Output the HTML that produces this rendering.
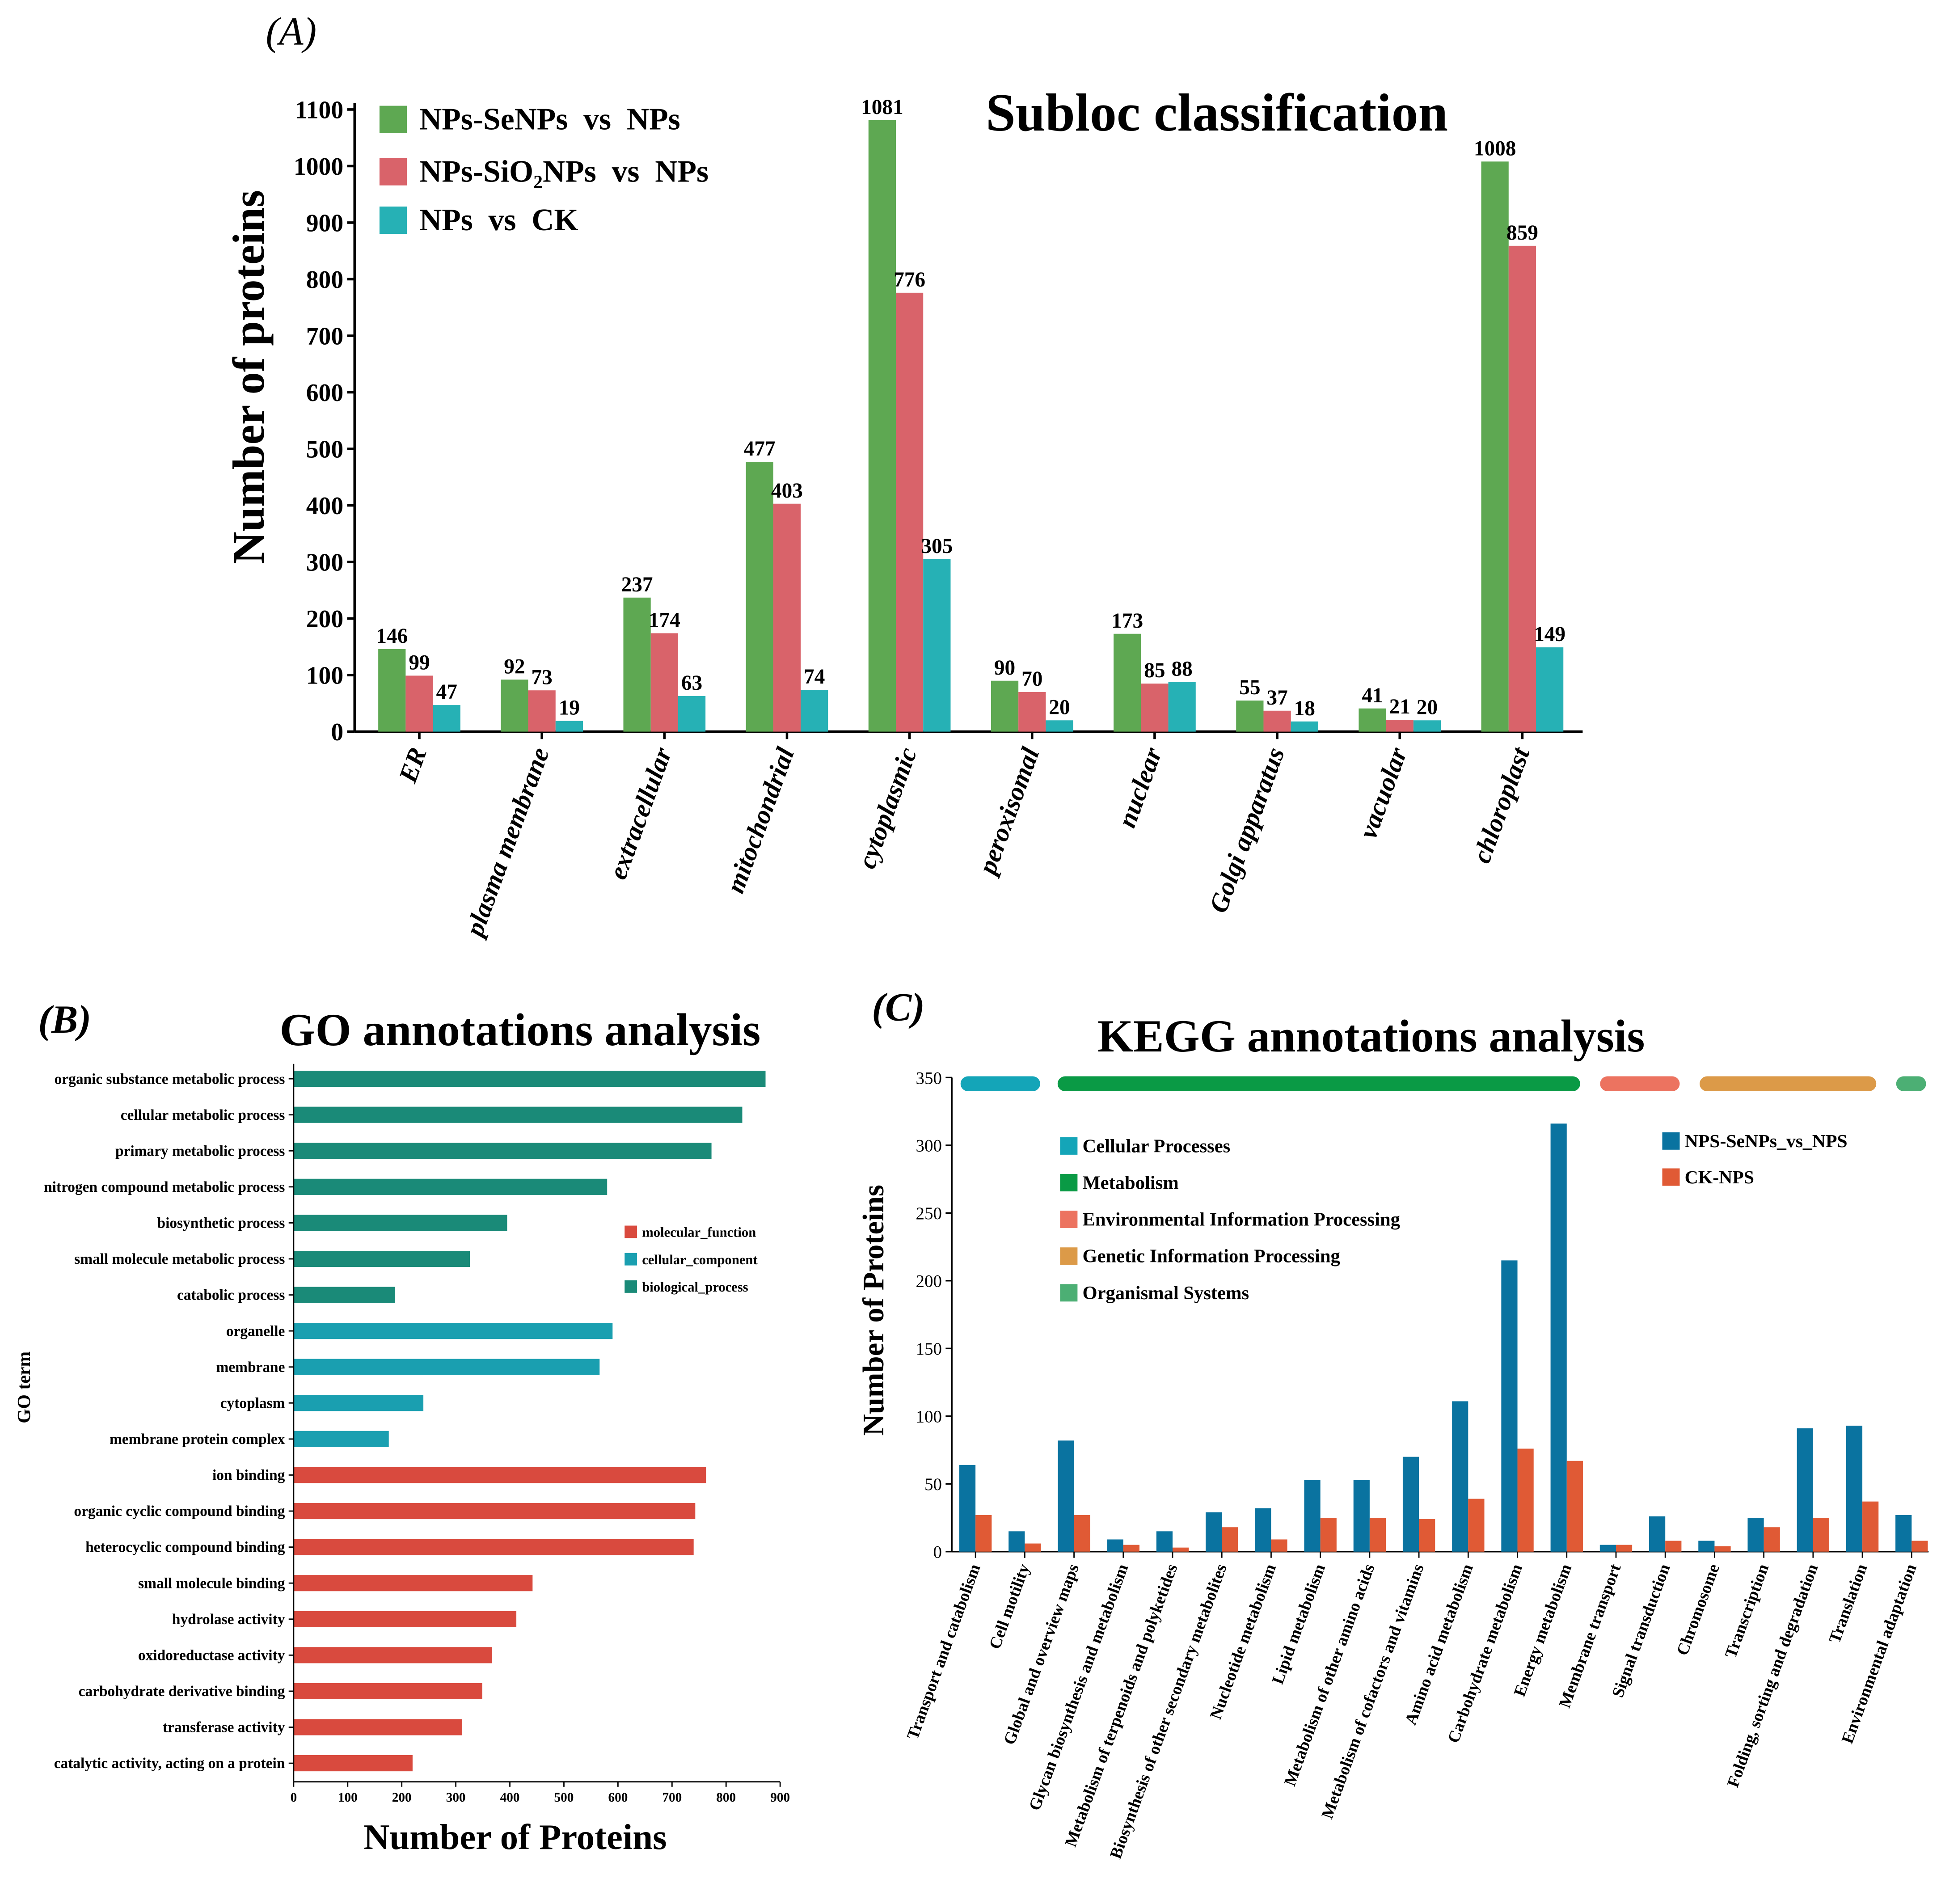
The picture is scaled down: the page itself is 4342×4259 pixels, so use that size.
<!DOCTYPE html>
<html><head><meta charset="utf-8">
<style>
html,body{margin:0;padding:0;background:#fff;}
svg{display:block;font-family:"Liberation Serif",serif;}
text{white-space:pre;}
</style></head>
<body>
<svg id="chart" xmlns="http://www.w3.org/2000/svg" width="4342" height="4259" viewBox="0 0 1560 1530.2">
<rect width="1560" height="1531" fill="#fff"/>
<g id="pa"></g>
<g id="pb"></g>
<g id="pc"></g>
</svg>
<script>
// ---------- Panel A data ----------
const aCategories = ["ER","plasma membrane","extracellular","mitochondrial","cytoplasmic","peroxisomal","nuclear","Golgi apparatus","vacuolar","chloroplast"];
const aSeriesNames = ["NPs-SeNPs  vs  NPs","NPs-SiO₂NPs  vs  NPs","NPs  vs  CK"];
const aSeSeries = [146,92,237,477,1081,90,173,55,41,1008];
const aSiSeries = [99,73,174,403,776,70,85,37,21,859];
const aCkSeries = [47,19,63,74,305,20,88,18,20,149];
const aTicks = [0,100,200,300,400,500,600,700,800,900,1000,1100];

// ---------- Panel B data ----------
const bTerms = ["organic substance metabolic process","cellular metabolic process","primary metabolic process","nitrogen compound metabolic process","biosynthetic process","small molecule metabolic process","catabolic process","organelle","membrane","cytoplasm","membrane protein complex","ion binding","organic cyclic compound binding","heterocyclic compound binding","small molecule binding","hydrolase activity","oxidoreductase activity","carbohydrate derivative binding","transferase activity","catalytic activity, acting on a protein"];
const bValues = [873,830,773,580,395,326,187,590,566,240,176,763,743,740,442,412,367,349,311,220];
const bGroups = ["bp","bp","bp","bp","bp","bp","bp","cc","cc","cc","cc","mf","mf","mf","mf","mf","mf","mf","mf","mf"];
const bTicks = [0,100,200,300,400,500,600,700,800,900];

// ---------- Panel C data ----------
const cCategories = ["Transport and catabolism","Cell motility","Global and overview maps","Glycan biosynthesis and metabolism","Metabolism of terpenoids and polyketides","Biosynthesis of other secondary metabolites","Nucleotide metabolism","Lipid metabolism","Metabolism of other amino acids","Metabolism of cofactors and vitamins","Amino acid metabolism","Carbohydrate metabolism","Energy metabolism","Membrane transport","Signal transduction","Chromosome","Transcription","Folding, sorting and degradation","Translation","Environmental adaptation"];
const cSeSeries = [64,15,82,9,15,29,32,53,53,70,111,215,316,5,26,8,25,91,93,27];
const cCkSeries = [27,6,27,5,3,18,9,25,25,24,39,76,67,5,8,4,18,25,37,8];
const cTicks = [0,50,100,150,200,250,300,350];

const NS="http://www.w3.org/2000/svg";
function mk(parent,tag,attrs,text){const e=document.createElementNS(NS,tag);for(const k in attrs)e.setAttribute(k,attrs[k]);if(text!==undefined)e.textContent=text;parent.appendChild(e);return e;}

// ===== Panel A =====
(function(){
const g=document.getElementById('pa');
const x0=285,x1=1272,y0=588,yTop=88,maxV=1100;
const y=v=>y0-(v/maxV)*(y0-yTop);
const gx=i=>304+i*98.5;
const bw=22;
const cols=["#5ea852","#d9636a","#26b1b5"];
const series=[aSeSeries,aSiSeries,aCkSeries];
let e;
e=mk(g,'line',{x1:x0,y1:y0,x2:x1,y2:y0,stroke:'#000','stroke-width':2});

e=mk(g,'line',{x1:x0,y1:y0,x2:x0,y2:yTop-5,stroke:'#000','stroke-width':2});

aTicks.forEach(t=>{
 mk(g,'line',{x1:x0-6,y1:y(t),x2:x0,y2:y(t),stroke:'#000','stroke-width':2});
 e=mk(g,'text',{x:x0-9,y:y(t)+7,'text-anchor':'end','font-size':20,'font-weight':'bold'},t);
 
});
series.forEach((s,si)=>{
 s.forEach((v,i)=>{
  const bx=gx(i)+si*bw;
  e=mk(g,'rect',{x:bx,y:y(v),width:bw,height:y0-y(v),fill:cols[si]});
  
  e=mk(g,'text',{x:bx+bw/2,y:y(v)-5,'text-anchor':'middle','font-size':17,'font-weight':'bold'},v);
  
 });
});
aCategories.forEach((c,i)=>{
 const cx=gx(i)+bw*1.5;
 mk(g,'line',{x1:cx,y1:y0,x2:cx,y2:y0+6,stroke:'#000','stroke-width':2});
 e=mk(g,'text',{x:cx+6,y:y0+16,'text-anchor':'end','font-size':21,'font-weight':'bold','font-style':'italic',transform:`rotate(-70 ${cx+6} ${y0+16})`},c);
 
});
e=mk(g,'text',{x:212,y:303,'text-anchor':'middle','font-size':36,'font-weight':'bold',transform:'rotate(-90 212 303)'},'Number of proteins');

e=mk(g,'text',{x:978,y:105,'text-anchor':'middle','font-size':43,'font-weight':'bold'},'Subloc classification');

e=mk(g,'text',{x:234,y:36,'text-anchor':'middle','font-size':32,'font-style':'italic'},'(A)');

const ly=[96,138,177];
aSeriesNames.forEach((n,i)=>{
 e=mk(g,'rect',{x:305,y:ly[i]-11,width:22,height:22,fill:cols[i]});
 
 e=mk(g,'text',{x:337,y:ly[i]+8,'font-size':25,'font-weight':'bold','xml:space':'preserve'},n);
 
});
})();

// ===== Panel B =====
(function(){
const g=document.getElementById('pb');
const x0=236,x1=627,yAxis=1432,maxV=900;
const x=v=>x0+(v/maxV)*(x1-x0);
const ry=i=>867+i*28.95;
const col={bp:"#1a8a78",cc:"#1a9fb0",mf:"#d94a3e"};
let e;
bValues.forEach((v,i)=>{
 e=mk(g,'rect',{x:x0,y:ry(i)-6.5,width:x(v)-x0,height:13,fill:col[bGroups[i]]});
 
 mk(g,'line',{x1:x0-4,y1:ry(i),x2:x0,y2:ry(i),stroke:'#000','stroke-width':1});
 e=mk(g,'text',{x:x0-7,y:ry(i)+4,'text-anchor':'end','font-size':12,'font-weight':'bold'},bTerms[i]);
 
});
e=mk(g,'line',{x1:x0,y1:855,x2:x0,y2:yAxis,stroke:'#000','stroke-width':1});

e=mk(g,'line',{x1:x0,y1:yAxis,x2:x1,y2:yAxis,stroke:'#000','stroke-width':1});

bTicks.forEach(t=>{
 mk(g,'line',{x1:x(t),y1:yAxis,x2:x(t),y2:yAxis+4,stroke:'#000','stroke-width':1});
 e=mk(g,'text',{x:x(t),y:yAxis+16,'text-anchor':'middle','font-size':10.5,'font-weight':'bold'},t);
 
});
e=mk(g,'text',{x:414,y:1486,'text-anchor':'middle','font-size':29,'font-weight':'bold'},'Number of Proteins');

e=mk(g,'text',{x:24,y:1115,'text-anchor':'middle','font-size':15,'font-weight':'bold',transform:'rotate(-90 24 1115)'},'GO term');

e=mk(g,'text',{x:418,y:840,'text-anchor':'middle','font-size':37,'font-weight':'bold'},'GO annotations analysis');

e=mk(g,'text',{x:52,y:830,'text-anchor':'middle','font-size':32,'font-weight':'bold','font-style':'italic'},'(B)');

[["molecular_function","mf",990],["cellular_component","cc",1012],["biological_process","bp",1034]].forEach(l=>{
 e=mk(g,'rect',{x:502,y:l[2]-5,width:10,height:10,fill:col[l[1]]});
 
 e=mk(g,'text',{x:516,y:l[2]+4,'font-size':11,'font-weight':'bold'},l[0]);
 
});
})();

// ===== Panel C =====
(function(){
const g=document.getElementById('pc');
const x0=765,x1=1550,y0=1247,yTop=866,maxV=350;
const y=v=>y0-(v/maxV)*(y0-yTop);
const cx=i=>771+i*39.6;
const bw=13;
let e;
e=mk(g,'line',{x1:x0,y1:yTop,x2:x0,y2:y0,stroke:'#000','stroke-width':1.2});

e=mk(g,'line',{x1:x0,y1:y0,x2:x1,y2:y0,stroke:'#000','stroke-width':1.2});

cTicks.forEach(t=>{
 mk(g,'line',{x1:x0-5,y1:y(t),x2:x0,y2:y(t),stroke:'#000','stroke-width':1.2});
 e=mk(g,'text',{x:x0-8,y:y(t)+5,'text-anchor':'end','font-size':14},t);
 
});
cSeSeries.forEach((v,i)=>{
 e=mk(g,'rect',{x:cx(i),y:y(v),width:bw,height:y0-y(v),fill:'#0a73a0'});
 
});
cCkSeries.forEach((v,i)=>{
 e=mk(g,'rect',{x:cx(i)+bw,y:y(v),width:bw,height:y0-y(v),fill:'#e05a35'});
 
});
cCategories.forEach((c,i)=>{
 const tx=cx(i)+bw;
 mk(g,'line',{x1:tx,y1:y0,x2:tx,y2:y0+5,stroke:'#000','stroke-width':1});
 e=mk(g,'text',{x:tx+4,y:y0+12,'text-anchor':'end','font-size':13.5,'font-weight':'bold',transform:`rotate(-70 ${tx+4} ${y0+12})`},c);
 
});
[[772,836,'#14a5b8'],[850,1270,'#0a9a45'],[1286,1350,'#ec7360'],[1366,1508,'#dc9a48'],[1524,1548,'#4caf74']].forEach(b=>{
 e=mk(g,'rect',{x:b[0],y:865,width:b[1]-b[0],height:12,rx:6,fill:b[2]});
 
});
[["Cellular Processes",'#14a5b8'],["Metabolism",'#0a9a45'],["Environmental Information Processing",'#ec7360'],["Genetic Information Processing",'#dc9a48'],["Organismal Systems",'#4caf74']].forEach((l,i)=>{
 const ly=921+i*29.5;
 e=mk(g,'rect',{x:852,y:ly-7,width:14,height:14,fill:l[1]});
 
 e=mk(g,'text',{x:870,y:ly+5,'font-size':15.3,'font-weight':'bold'},l[0]);
 
});
[["NPS-SeNPs_vs_NPS",'#0a73a0',917],["CK-NPS",'#e05a35',946]].forEach(l=>{
 e=mk(g,'rect',{x:1336,y:l[2]-7,width:14,height:14,fill:l[1]});
 
 e=mk(g,'text',{x:1354,y:l[2]+5,'font-size':15,'font-weight':'bold'},l[0]);
 
});
e=mk(g,'text',{x:710,y:1053,'text-anchor':'middle','font-size':24,'font-weight':'bold',transform:'rotate(-90 710 1053)'},'Number of Proteins');

e=mk(g,'text',{x:1102,y:845,'text-anchor':'middle','font-size':37,'font-weight':'bold'},'KEGG annotations analysis');

e=mk(g,'text',{x:722,y:820,'text-anchor':'middle','font-size':32,'font-weight':'bold','font-style':'italic'},'(C)');

})();
</script>
</body></html>
